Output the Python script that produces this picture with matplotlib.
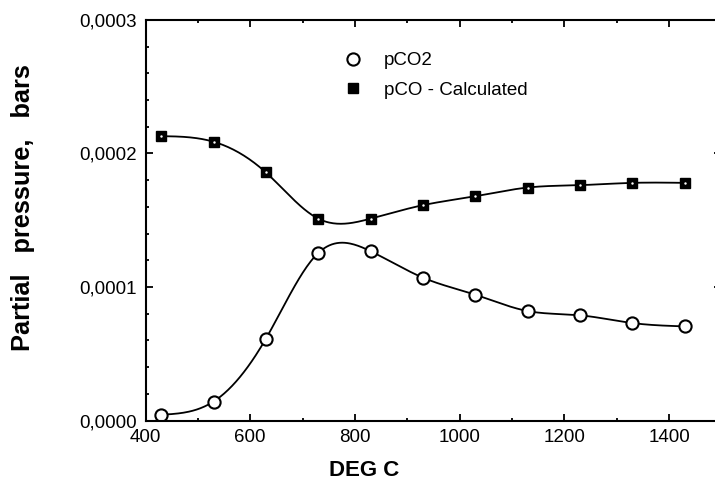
import numpy as np
import matplotlib.pyplot as plt
from matplotlib.ticker import MultipleLocator, FuncFormatter

plt.rcParams['font.family'] = ['Liberation Sans', 'DejaVu Sans']

# Datos
temp = [430, 530, 630, 730, 830, 930, 1030, 1130, 1230, 1330, 1430]
pCO2 = [0.043e-4, 0.142e-4, 0.613e-4, 1.255e-4, 1.268e-4, 1.070e-4,
        0.942e-4, 0.820e-4, 0.788e-4, 0.730e-4, 0.705e-4]
pCO = [2.130e-4, 2.088e-4, 1.858e-4, 1.512e-4, 1.512e-4, 1.613e-4,
       1.680e-4, 1.745e-4, 1.763e-4, 1.780e-4, 1.780e-4]


def spline(x, y, n=400):
    # spline cubico natural para la curva suave
    x = np.asarray(x, float); y = np.asarray(y, float)
    k = len(x); h = np.diff(x)
    A = np.zeros((k, k)); b = np.zeros(k)
    A[0, 0] = A[-1, -1] = 1
    for i in range(1, k-1):
        A[i, i-1] = h[i-1]; A[i, i] = 2*(h[i-1]+h[i]); A[i, i+1] = h[i]
        b[i] = 6*((y[i+1]-y[i])/h[i] - (y[i]-y[i-1])/h[i-1])
    M = np.linalg.solve(A, b)
    xs = np.linspace(x[0], x[-1], n)
    j = np.clip(np.searchsorted(x, xs) - 1, 0, k-2)
    dx1 = x[j+1] - xs; dx0 = xs - x[j]; hj = h[j]
    ys = (M[j]*dx1**3 + M[j+1]*dx0**3)/(6*hj) \
        + (y[j]/hj - M[j]*hj/6)*dx1 + (y[j+1]/hj - M[j+1]*hj/6)*dx0
    return xs, ys


fig = plt.figure(figsize=(7.15, 5.01), dpi=100)
ax = fig.add_axes([145.5/715, 80.5/501, 575.9/715, 400.5/501])

xs, ys = spline(temp, pCO2)
ax.plot(xs, ys, '-', color='black', lw=1.3)
xs, ys = spline(temp, pCO)
ax.plot(xs, ys, '-', color='black', lw=1.3)

h1, = ax.plot(temp, pCO2, 'o', ms=8.8, mfc='white', mec='black', mew=1.5,
              label='pCO2')
h2, = ax.plot(temp, pCO, 's', ms=6.5, mfc='black', mec='black', mew=1,
              label='pCO - Calculated')
ax.plot(temp, pCO, '.', ms=1.5, color='white')

ax.set_xlim(400, 1500)
ax.set_ylim(0, 0.0003)
ax.xaxis.set_major_locator(MultipleLocator(200))
ax.xaxis.set_minor_locator(MultipleLocator(100))
ax.yaxis.set_major_locator(MultipleLocator(0.0001))
ax.yaxis.set_minor_locator(MultipleLocator(0.00002))
ax.yaxis.set_major_formatter(FuncFormatter(lambda v, p: f'{v:.4f}'.replace('.', ',')))
ax.tick_params(which='both', direction='in', top=True, right=True,
               labelsize=13.5, width=1.3)
ax.tick_params(which='major', length=5)
ax.tick_params(which='minor', length=2.5)
ax.tick_params(axis='y', pad=6)
ax.tick_params(axis='x', pad=6)
for s in ax.spines.values():
    s.set_linewidth(1.5)

fig.text(23/715, 1-208/501, 'Partial   pressure,   bars', rotation=90,
         ha='center', va='center', fontsize=18.3, fontweight='bold')
fig.text(364/715, 1-470/501, 'DEG C', ha='center', va='center',
         fontsize=16, fontweight='bold')

ax.legend(handles=[h1, h2], loc='upper left',
          bbox_to_anchor=(343/715, 1-52/501), bbox_transform=fig.transFigure,
          frameon=False, fontsize=13.5, handlelength=1.1, handletextpad=1.1,
          labelspacing=0.67, borderpad=0, borderaxespad=0, numpoints=1)

fig.savefig('out.png', dpi=100)
